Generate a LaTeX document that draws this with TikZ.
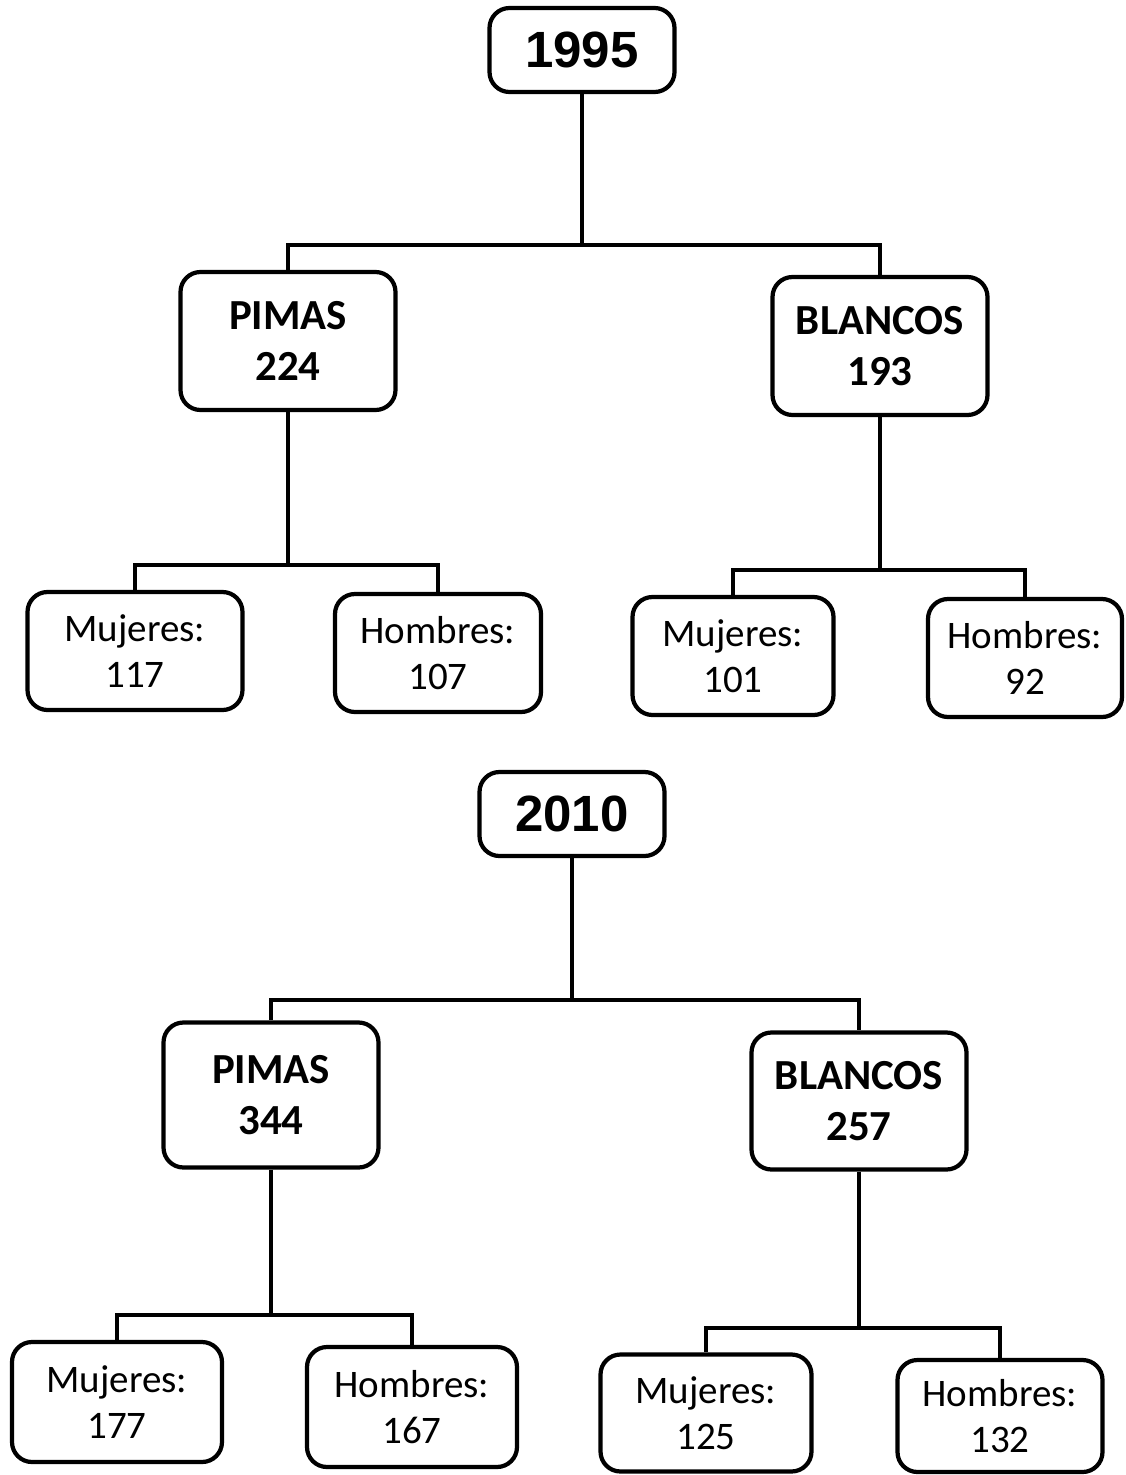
\documentclass[tikz,border=0pt]{standalone}
\usepackage{fontspec}
\setmainfont{Carlito}
\newfontfamily\yearfont{Liberation Sans}
\usepackage{tikz}
\usepackage{xcolor}

\tikzset{
  box/.style={draw, line width=1.2pt, rounded corners=0.2cm, align=center, inner sep=0pt},
  yearbox/.style={box, minimum width=1.85cm, minimum height=0.84cm, font=\yearfont\bfseries\fontsize{14.5}{16}\selectfont},
  groupbox/.style={box, minimum width=2.15cm, minimum height=1.38cm, font=\bfseries\fontsize{12.2}{14.6}\selectfont},
  sexbox/.style={box, minimum width=2.06cm, minimum height=1.18cm, font=\fontsize{11.1}{13.2}\selectfont},
  link/.style={line width=1.2pt}
}

\begin{document}
\begin{tikzpicture}
\useasboundingbox (0,0) rectangle (11.25,-14.75);

% 1995
\node[yearbox] (y95) at (5.82,-0.50) {1995};
\coordinate (j95) at (5.82,-2.45);

\node[groupbox] (p95) at (2.88,-3.41) {PIMAS\\224};
\node[groupbox] (b95) at (8.80,-3.46) {BLANCOS\\193};
\draw[link] (y95) -- (j95);
\draw[link] (j95) -| (p95);
\draw[link] (j95) -| (b95);

\coordinate (jp95) at (2.88,-5.65);
\node[sexbox, minimum width=2.15cm] (pm95) at (1.35,-6.51) {Mujeres:\\117};
\node[sexbox] (ph95) at (4.38,-6.53) {Hombres:\\107};
\draw[link] (p95) -- (jp95);
\draw[link] (jp95) -| (pm95);
\draw[link] (jp95) -| (ph95);

\coordinate (jb95) at (8.80,-5.70);
\node[sexbox, minimum width=2.01cm] (bm95) at (7.33,-6.56) {Mujeres:\\101};
\node[sexbox, minimum width=1.94cm] (bh95) at (10.25,-6.58) {Hombres:\\92};
\draw[link] (b95) -- (jb95);
\draw[link] (jb95) -| (bm95);
\draw[link] (jb95) -| (bh95);

% 2010
\node[yearbox] (y10) at (5.72,-8.14) {2010};
\coordinate (j10) at (5.72,-10.00);

\node[groupbox, minimum height=1.45cm] (p10) at (2.71,-10.95) {PIMAS\\344};
\node[groupbox, minimum height=1.37cm] (b10) at (8.59,-11.01) {BLANCOS\\257};
\draw[link] (y10) -- (j10);
\draw[link] (j10) -| (p10);
\draw[link] (j10) -| (b10);

\coordinate (jp10) at (2.71,-13.15);
\node[sexbox, minimum width=2.10cm, minimum height=1.20cm] (pm10) at (1.17,-14.02) {Mujeres:\\177};
\node[sexbox, minimum width=2.10cm, minimum height=1.20cm] (ph10) at (4.12,-14.07) {Hombres:\\167};
\draw[link] (p10) -- (jp10);
\draw[link] (jp10) -| (pm10);
\draw[link] (jp10) -| (ph10);

\coordinate (jb10) at (8.59,-13.28);
\node[sexbox, minimum width=2.11cm, minimum height=1.17cm] (bm10) at (7.06,-14.13) {Mujeres:\\125};
\node[sexbox, minimum width=2.05cm, minimum height=1.12cm] (bh10) at (10.00,-14.16) {Hombres:\\132};
\draw[link] (b10) -- (jb10);
\draw[link] (jb10) -| (bm10);
\draw[link] (jb10) -| (bh10);
\end{tikzpicture}
\end{document}
